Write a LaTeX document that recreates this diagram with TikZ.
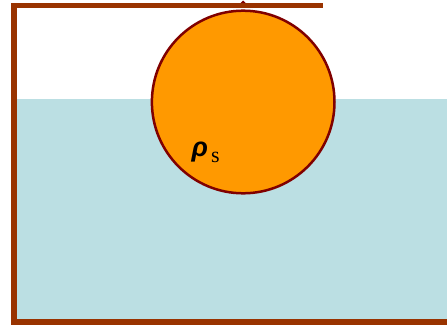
\documentclass[tikz,border=0pt]{standalone}
\usepackage{fontspec}
\newfontfamily\rhofont{Liberation Sans}
\newfontfamily\subfont{Liberation Serif}
\definecolor{wall}{RGB}{153,51,0}
\definecolor{water}{RGB}{187,223,227}
\definecolor{ball}{RGB}{255,153,0}
\definecolor{rim}{RGB}{128,0,0}
\begin{document}
\begin{tikzpicture}[x=1pt,y=1pt,
  wallline/.style={draw=wall,line width=6pt,line join=miter},
  topline/.style={draw=wall,line width=5pt},
  ballstyle/.style={fill=ball,draw=rim,line width=2.5pt},
  label/.style={inner sep=0pt}]
\useasboundingbox (0,0) rectangle (447,325);
% water
\fill[water] (17,3) rectangle (447,226);
% right wall (mostly outside the picture)
\draw[wallline,draw opacity=0.5] (449.5,273) -- (449.5,0);
% container walls
\draw[wallline] (14,322) -- (14,3) -- (450,3);
\draw[topline] (11,319.5) -- (323,319.5);
% small tick at the top
\fill[rim] (240.5,322) -- (245.5,322) -- (243,324.5) -- cycle;
% sphere
\coordinate (c) at (243.2,223);
\draw[ballstyle] (c) circle[radius=91.3];
\node[label,anchor=base west] (rho) at (191.5,168.5)
  {{\rhofont\bfseries\itshape\fontsize{27}{27}\selectfont ρ}\kern3pt\raisebox{-6pt}{\subfont\fontsize{22}{22}\selectfont s}};
\end{tikzpicture}
\end{document}
